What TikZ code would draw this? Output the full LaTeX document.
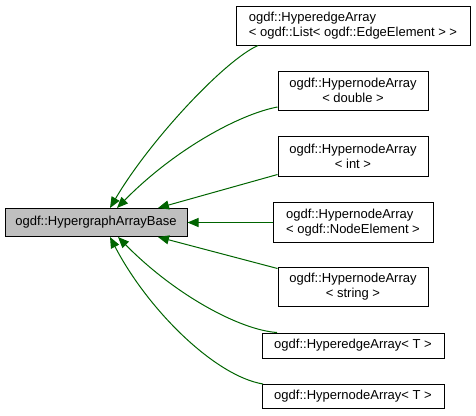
\documentclass[tikz,border=0pt]{standalone}
\usepackage{fontspec}
\setmainfont{Liberation Sans}
\usetikzlibrary{arrows.meta}
\definecolor{edgegreen}{HTML}{006400}
\definecolor{basegray}{HTML}{BFBFBF}
\tikzset{
  cls/.style={draw, line width=1pt, inner sep=0pt, font=\fontsize{13}{15}\selectfont},
  inh/.style={edgegreen, line width=1pt, -{Triangle[length=11pt,width=9pt]}}
}
\begin{document}
\begin{tikzpicture}[x=1pt,y=-1pt]
  \useasboundingbox (0,0) rectangle (476,415);
  \node[cls, fill=basegray, minimum width=182pt, minimum height=28pt] (base) at (96,222.5) {ogdf::HypergraphArrayBase};
  \foreach \n/\y/\w/\h/\a/\t in {b1/25.5/234/39/left/{ogdf::HyperedgeArray\\< ogdf::List< ogdf::EdgeElement > >},
      b2/90.5/150/39/center/{ogdf::HypernodeArray\\< double >},
      b3/156.5/150/40/center/{ogdf::HypernodeArray\\< int >},
      b4/222.5/160/40/left/{ogdf::HypernodeArray\\< ogdf::NodeElement >},
      b5/286.5/150/39/center/{ogdf::HypernodeArray\\< string >},
      b6/345.5/182/25/center/{ogdf::HyperedgeArray< T >},
      b7/396.5/182/24/center/{ogdf::HypernodeArray< T >}}
    \node[cls, align=\a, minimum width=\w pt, minimum height=\h pt] (\n) at (353,\y) {\t};
  \draw[inh] ([xshift=-95pt]b1.south) .. controls (225,60) and (150,140) .. ([xshift=14pt]base.north);
  \draw[inh] ([yshift=-16.5pt]b2.west) .. controls (240,114) and (175,149) .. ([xshift=21pt]base.north);
  \draw[inh] ([yshift=-18pt]b3.west) -- ([xshift=62pt]base.north);
  \draw[inh] (b4.west) -- (base.east);
  \draw[inh] ([yshift=18pt]b5.west) -- ([xshift=62pt]base.south);
  \draw[inh] ([xshift=-76pt]b6.north) .. controls (240,330) and (175,295) .. ([xshift=22pt]base.south);
  \draw[inh] ([xshift=-90pt]b7.north) .. controls (215,376) and (148,310) .. ([xshift=14pt]base.south);
\end{tikzpicture}
\end{document}
